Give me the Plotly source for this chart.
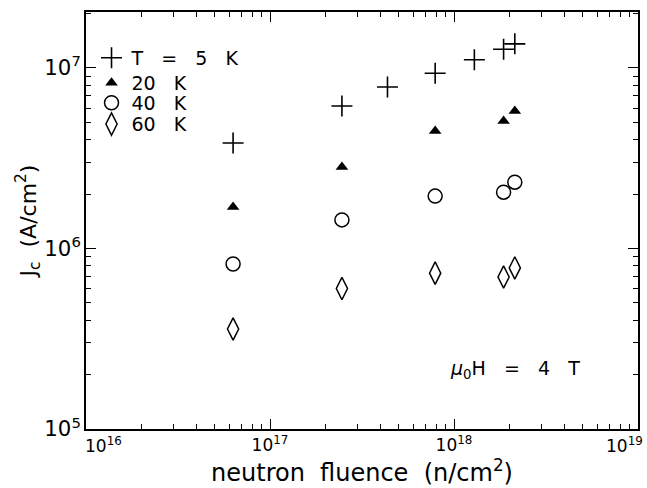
import plotly.graph_objects as go

fluence_5K = [6.3e16, 2.46e17, 4.35e17, 7.9e17, 1.29e18, 1.86e18, 2.14e18]
jc_5K = [3.84e6, 6.16e6, 7.85e6, 9.35e6, 1.11e7, 1.27e7, 1.36e7]

fluence_20K = [6.3e16, 2.46e17, 7.9e17, 1.86e18, 2.14e18]
jc_20K = [1.70e6, 2.83e6, 4.48e6, 5.08e6, 5.78e6]

fluence_40K = [6.3e16, 2.46e17, 7.9e17, 1.86e18, 2.14e18]
jc_40K = [8.2e5, 1.44e6, 1.95e6, 2.05e6, 2.33e6]

fluence_60K = [6.3e16, 2.46e17, 7.9e17, 1.86e18, 2.14e18]
jc_60K = [3.58e5, 6.0e5, 7.3e5, 6.95e5, 7.8e5]

x_tickvals = [1e16, 1e17, 1e18, 1e19]
x_ticktext = ["", "10<sup>17</sup>", "10<sup>18</sup>", ""]
x_first_label = "10<sup>16</sup>"
x_last_label = "10<sup>19</sup>"

S = "\u00a0\u00a0\u00a0"
legend_names = [f"T{S}={S}5{S}K", f"20{S}K", f"40{S}K", f"60{S}K"]

WIDE = "DejaVu Sans, Verdana, sans-serif"

fig = go.Figure()
fig.add_trace(go.Scatter(x=fluence_5K, y=jc_5K, mode="markers", name=legend_names[0],
                         legend="legend",
                         marker=dict(symbol="cross-thin-open", size=15, color="black",
                                     line=dict(width=1.6, color="black"))))
fig.add_trace(go.Scatter(x=fluence_20K, y=jc_20K, mode="markers", name=legend_names[1],
                         legend="legend2",
                         marker=dict(symbol="triangle-up", size=11, color="black",
                                     line=dict(width=0))))
fig.add_trace(go.Scatter(x=fluence_40K, y=jc_40K, mode="markers", name=legend_names[2],
                         legend="legend3",
                         marker=dict(symbol="circle-open", size=14, color="black",
                                     line=dict(width=1.5, color="black"))))
fig.add_trace(go.Scatter(x=fluence_60K, y=jc_60K, mode="markers", name=legend_names[3],
                         legend="legend4",
                         marker=dict(symbol="diamond-tall-open", size=16, color="black",
                                     line=dict(width=1.5, color="black"))))

minor = dict(ticks="inside", ticklen=5, tickwidth=1.1, tickcolor="black",
             dtick="D1", showgrid=False)
tick_font = dict(family=WIDE, size=17, color="black")
axis_common = dict(
    type="log", showgrid=False, zeroline=False, showline=True, linecolor="black",
    linewidth=1.5, mirror="ticks", ticks="inside", ticklen=10, tickwidth=1.3,
    tickcolor="black", minor=minor, tickfont=tick_font,
)

legend_rows = [0.890, 0.830, 0.782, 0.731]
legend_style = dict(x=0.01, xanchor="left", yanchor="middle",
                    bgcolor="rgba(0,0,0,0)", font=dict(size=19, family=WIDE),
                    itemwidth=30)

fig.update_layout(
    width=647, height=488,
    margin=dict(l=86, r=7, t=12, b=59),
    paper_bgcolor="white", plot_bgcolor="white",
    font=dict(family=WIDE, size=17, color="black"),
    xaxis=dict(range=[16, 19], tickmode="array", tickvals=x_tickvals, ticktext=x_ticktext,
               title=dict(text="neutron\u00a0\u00a0fluence\u00a0\u00a0(n/cm<sup>2</sup>)",
                          font=dict(size=24, family=WIDE), standoff=2), **axis_common),
    yaxis=dict(range=[5, 7.31], dtick=1, exponentformat="power",
               title=dict(text="J<sub>c</sub>\u00a0\u00a0(A/cm<sup>2</sup>)",
                          font=dict(size=22, family=WIDE), standoff=2), **axis_common),
    legend=dict(y=legend_rows[0], **legend_style),
    legend2=dict(y=legend_rows[1], **legend_style),
    legend3=dict(y=legend_rows[2], **legend_style),
    legend4=dict(y=legend_rows[3], **legend_style),
    showlegend=True,
)

fig.add_annotation(x=0, y=0, xref="paper", yref="paper", text=x_first_label,
                   showarrow=False, xanchor="left", yanchor="top", xshift=-3, yshift=-3,
                   font=tick_font)
fig.add_annotation(x=1, y=0, xref="paper", yref="paper", text=x_last_label,
                   showarrow=False, xanchor="right", yanchor="top", xshift=7, yshift=-3,
                   font=tick_font)

fig.add_annotation(x=0.778, y=0.1415, xref="paper", yref="paper",
                   text=f"<i>\u03bc</i><sub>0</sub>H{S}={S}4{S}T",
                   showarrow=False, font=dict(size=19, family=WIDE),
                   xanchor="center", yanchor="middle")

fig.write_html("out.html")
